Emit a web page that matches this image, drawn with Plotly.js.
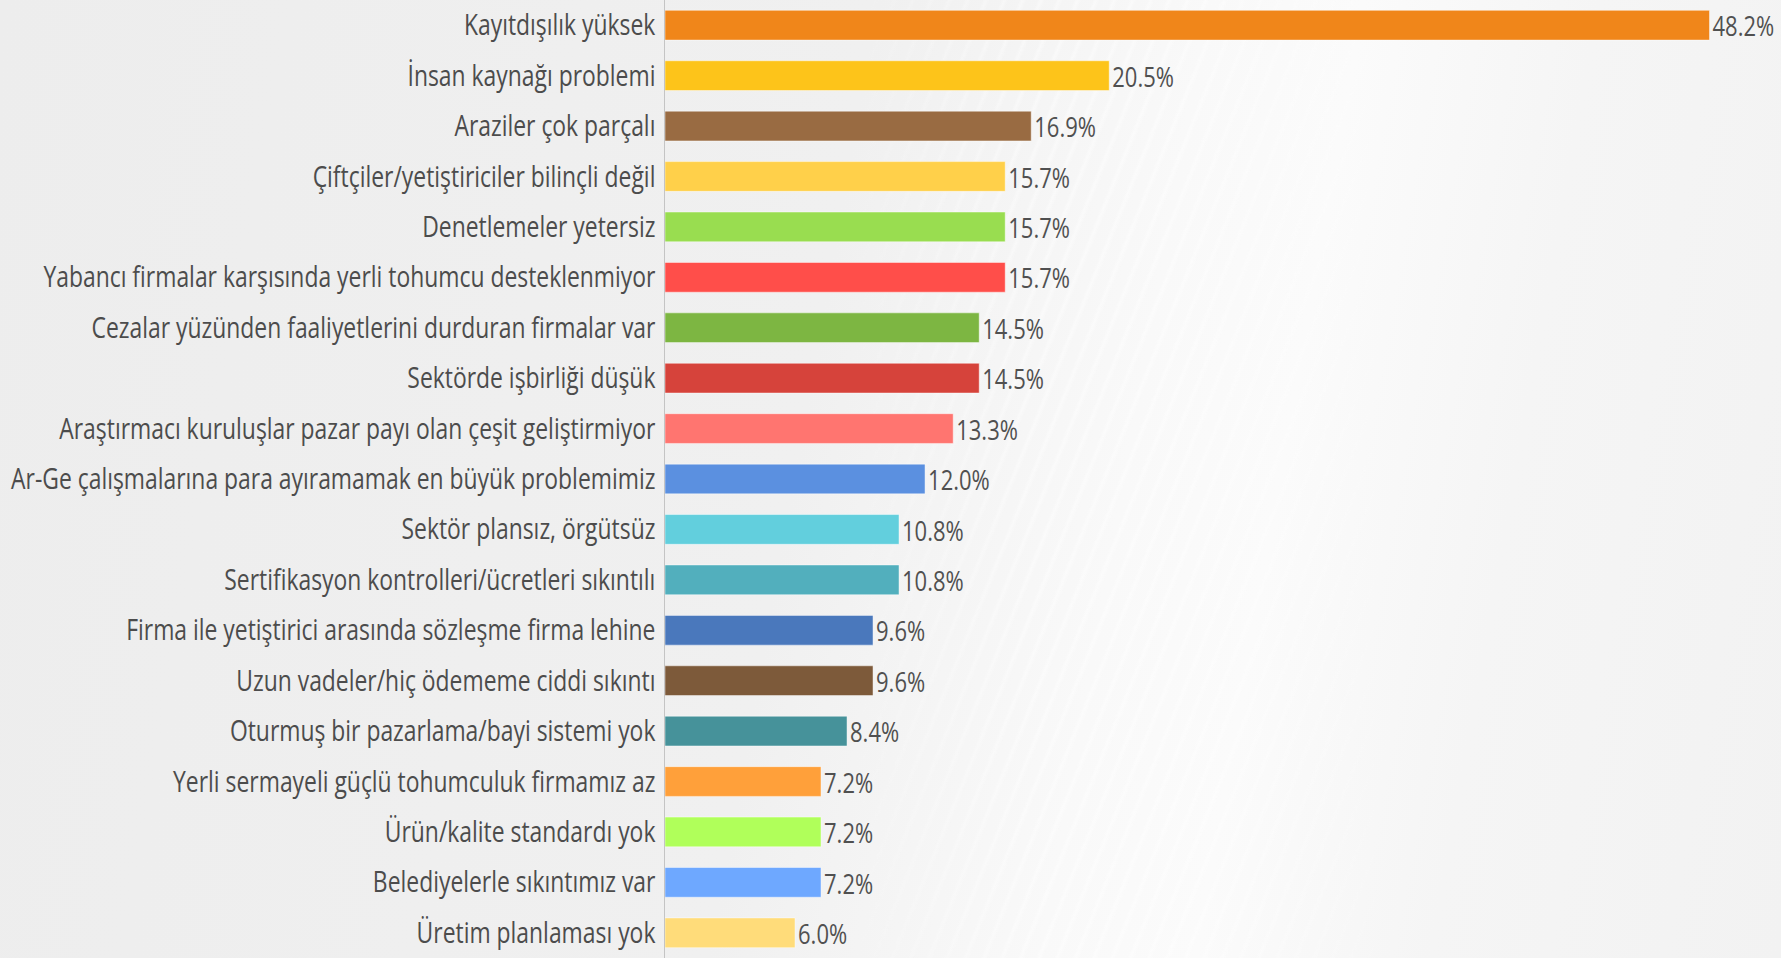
<!DOCTYPE html>
<html>
<head>
<meta charset="utf-8">
<script src="https://cdn.plot.ly/plotly-3.0.1.min.js"></script>
<style>
  html, body { margin: 0; padding: 0; }
  body {
    width: 1781px; height: 958px; overflow: hidden; position: relative;
    background: linear-gradient(100deg, #ededed 0%, #f0f0f0 45%, #f9f9f9 62%, #fbfbfb 70%, #f5f5f5 82%, #f2f2f2 100%);
  }
  #streaks {
    position: absolute; left: 0; top: 0; width: 1781px; height: 958px;
    background: repeating-linear-gradient(112deg, rgba(255,255,255,0) 0px, rgba(255,255,255,0) 10px, rgba(255,255,255,0.7) 13px, rgba(255,255,255,0) 17px);
    -webkit-mask-image: linear-gradient(90deg, transparent 48%, #000 58%, #000 66%, transparent 78%);
    mask-image: linear-gradient(90deg, transparent 48%, #000 58%, #000 66%, transparent 78%);
    opacity: 0.6;
  }
  #root { position: absolute; left: 0; top: 0; width: 1781px; height: 958px; }
</style>
</head>
<body>
<div id="streaks"></div>
<div id="root"></div>
<script>
// categories top to bottom
const categories = [
    "Kayıtdışılık yüksek",
    "İnsan kaynağı problemi",
    "Araziler çok parçalı",
    "Çiftçiler/yetiştiriciler bilinçli değil",
    "Denetlemeler yetersiz",
    "Yabancı firmalar karşısında yerli tohumcu desteklenmiyor",
    "Cezalar yüzünden faaliyetlerini durduran firmalar var",
    "Sektörde işbirliği düşük",
    "Araştırmacı kuruluşlar pazar payı olan çeşit geliştirmiyor",
    "Ar-Ge çalışmalarına para ayıramamak en büyük problemimiz",
    "Sektör plansız, örgütsüz",
    "Sertifikasyon kontrolleri/ücretleri sıkıntılı",
    "Firma ile yetiştirici arasında sözleşme firma lehine",
    "Uzun vadeler/hiç ödememe ciddi sıkıntı",
    "Oturmuş bir pazarlama/bayi sistemi yok",
    "Yerli sermayeli güçlü tohumculuk firmamız az",
    "Ürün/kalite standardı yok",
    "Belediyelerle sıkıntımız var",
    "Üretim planlaması yok"
];

const values = [48.2, 20.5, 16.9, 15.7, 15.7, 15.7, 14.5, 14.5, 13.3, 12.0,
                10.8, 10.8, 9.6, 9.6, 8.4, 7.2, 7.2, 7.2, 6.0];

const barColors = [
    "#f0861a", "#fdc41a", "#996b42", "#ffd04a", "#99dd50", "#ff4e4a",
    "#7db642", "#d6433b", "#ff7570", "#5b90e0", "#62cfdd", "#52afbd",
    "#4a78bc", "#7d5a3a", "#46929a", "#ffa03a", "#b0ff5a", "#6ea8ff",
    "#ffdc7a"
];

const FONT = '"Open Sans", "Noto Sans", sans-serif';
const TEXT_STRETCH = 1.24;   // reference glyphs are tall and narrow

var trace = {
    type: 'bar',
    orientation: 'h',
    x: values,
    y: categories,
    marker: {
        color: barColors,
        line: { color: 'rgba(255,255,255,0.45)', width: 1 }
    },
    texttemplate: '%{x:.1f}%',
    textposition: 'outside',
    constraintext: 'none',
    cliponaxis: false,
    textfont: { family: FONT, size: 22, color: '#505050' },
    hoverinfo: 'none'
};

var layout = {
    width: 1781,
    height: 958,
    margin: { l: 665, r: 0, t: 0, b: 0 },
    paper_bgcolor: 'rgba(0,0,0,0)',
    plot_bgcolor: 'rgba(0,0,0,0)',
    bargap: 0.41,
    showlegend: false,
    xaxis: {
        range: [0, 51.5],
        visible: false,
        fixedrange: true
    },
    yaxis: {
        autorange: 'reversed',
        showline: true,
        linecolor: '#c4c4c4',
        linewidth: 1,
        showgrid: false,
        ticks: '',
        ticklabelstandoff: 4,
        tickfont: { family: FONT, size: 22.9, color: '#4c4c4c' },
        fixedrange: true
    },
    font: { family: FONT }
};

// stretch every text vertically about its own middle
function stretchTexts() {
    document.querySelectorAll('#root .ytick text, #root text.bartext').forEach(function(el) {
        var bb = el.getBBox();
        var cy = bb.y + bb.height / 2;
        var t = el.getAttribute('transform') || '';
        el.setAttribute('transform', t + ' translate(0,' + cy + ') scale(1,' + TEXT_STRETCH + ') translate(0,' + (-cy) + ')');
    });
}

Plotly.newPlot('root', [trace], layout, { displayModeBar: false, staticPlot: true }).then(stretchTexts);
</script>
</body>
</html>
